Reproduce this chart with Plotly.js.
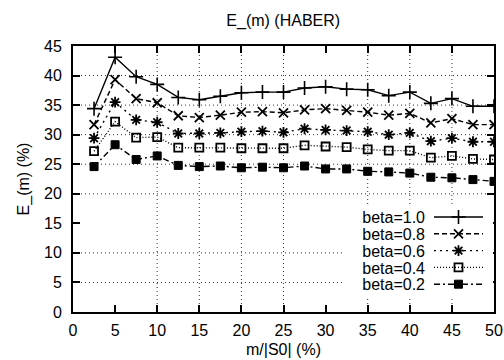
<!DOCTYPE html>
<html>
<head>
<meta charset="utf-8">
<script src="https://cdn.plot.ly/plotly-3.0.1.min.js"></script>
<style>
  html, body { margin: 0; padding: 0; background: #fff; }
  #chart { width: 504px; height: 360px; }
</style>
</head>
<body>
<div id="chart"></div>
<script>
// ---- data ----
const mOverS0 = [2.5, 5, 7.5, 10, 12.5, 15, 17.5, 20, 22.5, 25, 27.5, 30, 32.5, 35, 37.5, 40, 42.5, 45, 47.5, 50];
const beta10 = [34.4, 43.1, 39.8, 38.5, 36.3, 35.9, 36.5, 37.1, 37.2, 37.2, 37.9, 38.1, 37.7, 37.6, 36.6, 37.2, 35.3, 36.1, 34.8, 34.8];
const beta08 = [31.7, 39.3, 36.1, 35.4, 33.2, 32.9, 33.3, 33.8, 33.9, 33.7, 34.2, 34.4, 34.1, 33.8, 33.3, 33.6, 32.0, 32.7, 31.7, 31.7];
const beta06 = [29.4, 35.5, 32.5, 32.1, 30.2, 30.2, 30.3, 30.5, 30.6, 30.4, 31.0, 30.8, 30.7, 30.5, 30.0, 30.3, 28.9, 29.4, 28.8, 28.8];
const beta04 = [27.2, 32.2, 29.5, 29.6, 27.8, 27.8, 27.8, 27.7, 27.7, 27.7, 28.2, 28.0, 27.9, 27.5, 27.3, 27.3, 26.1, 26.4, 25.9, 25.8];
const beta02 = [24.6, 28.3, 25.8, 26.4, 24.8, 24.6, 24.7, 24.4, 24.5, 24.4, 24.7, 24.2, 24.2, 23.8, 23.7, 23.5, 22.8, 22.7, 22.4, 22.1];
const seriesNames = ["beta=1.0", "beta=0.8", "beta=0.6", "beta=0.4", "beta=0.2"];
const xTicks = [0, 5, 10, 15, 20, 25, 30, 35, 40, 45, 50];
const yTicks = [0, 5, 10, 15, 20, 25, 30, 35, 40, 45];
// grid lines visible in the reference
const xGrid = [10, 15, 20, 25, 35, 40, 45];
const yGrid = [5, 10, 20, 25, 30, 35, 40];

const seriesValues = [beta10, beta08, beta06, beta04, beta02];
const styles = [
  { dash: "solid", symbol: "cross-thin-open", size: 10, mlw: 1.6 },
  { dash: "5px,3px", symbol: "x-thin-open", size: 9, mlw: 1.8 },
  { dash: "2px,4px", symbol: "asterisk-open", size: 9, mlw: 1.8 },
  { dash: "1px,2px", symbol: "square-open", size: 8, mlw: 1.8 },
  { dash: "6px,3px,2px,3px", symbol: "square", size: 8, mlw: 1 }
];

const traces = seriesValues.map((vals, i) => ({
  x: mOverS0,
  y: vals,
  name: seriesNames[i],
  type: "scatter",
  mode: "lines+markers",
  line: { color: "#000", width: 1.4, dash: styles[i].dash },
  marker: {
    symbol: styles[i].symbol,
    size: styles[i].size,
    color: "#000",
    line: { color: "#000", width: styles[i].mlw }
  }
}));

const gridShapes = [];
xGrid.forEach(v => gridShapes.push({
  type: "line", xref: "x", yref: "paper", x0: v, x1: v, y0: 0, y1: 1,
  layer: "below", line: { color: "#333", width: 1, dash: "1px,3px" }
}));
yGrid.forEach(v => gridShapes.push({
  type: "line", xref: "paper", yref: "y", x0: 0, x1: 1, y0: v, y1: v,
  layer: "below", line: { color: "#333", width: 1, dash: "1px,3px" }
}));

const font = { family: "Liberation Sans, Arial, Helvetica, sans-serif", color: "#000", size: 16 };

const axisCommon = {
  showgrid: false,
  zeroline: false,
  showline: true,
  linecolor: "#000",
  linewidth: 2,
  mirror: "allticks",
  ticks: "inside",
  ticklen: 7,
  tickwidth: 2,
  tickcolor: "#000",
  tickfont: font
};

const layout = {
  width: 504,
  height: 360,
  margin: { l: 73, r: 10, t: 46, b: 48 },
  paper_bgcolor: "#fff",
  plot_bgcolor: "#fff",
  font: font,
  showlegend: true,
  title: { text: "E_(m) (HABER)", font: { ...font, size: 16 }, x: 0.562, xanchor: "center", y: 0.942, yanchor: "middle" },
  xaxis: Object.assign({}, axisCommon, {
    range: [0, 50],
    tickvals: xTicks,
    ticktext: xTicks.map(String),
    ticklabelstandoff: 3,
    title: { text: "m/|S0| (%)", font: font, standoff: 6 }
  }),
  yaxis: Object.assign({}, axisCommon, {
    range: [0, 45],
    tickvals: yTicks,
    ticktext: yTicks.map(String),
    ticklabelstandoff: 6,
    title: { text: "E_(m) (%)", font: font, standoff: 10 }
  }),
  legend: {
    x: 0.995, xanchor: "right",
    y: 0.43, yanchor: "top",
    bgcolor: "#fff",
    borderwidth: 0,
    font: font,
    tracegroupgap: 0
  },
  shapes: gridShapes
};

// gnuplot-style key: label first (right aligned), line sample after it, tight rows
function restyleKey(gd) {
  const leg = gd.querySelector("g.legend");
  if (!leg) return;
  const m = /translate\(\s*([-\d.]+)[ ,]+([-\d.]+)\s*\)/.exec(leg.getAttribute("transform") || "");
  const lx = m ? parseFloat(m[1]) : 0, ly = m ? parseFloat(m[2]) : 0;
  const keyLeft = 343, keyRight = 493, keyTop = 204, keyBottom = 296;
  const textRight = 425, sampleLeft = 434, sampleLen = 49, firstRow = 217, rowStep = 16.8;
  const bg = leg.querySelector("rect.bg");
  if (bg) {
    bg.setAttribute("x", keyLeft - lx); bg.setAttribute("y", keyTop - ly);
    bg.setAttribute("width", keyRight - keyLeft); bg.setAttribute("height", keyBottom - keyTop);
  }
  leg.querySelectorAll("[clip-path]").forEach(el => el.removeAttribute("clip-path"));
  const sb = leg.querySelector("g.scrollbox");
  if (sb) sb.setAttribute("transform", "translate(0,0)");
  leg.querySelectorAll("g.groups").forEach(g => g.setAttribute("transform", "translate(0,0)"));
  const items = leg.querySelectorAll("g.traces");
  items.forEach((it, i) => {
    it.setAttribute("transform", `translate(0,${(firstRow + i * rowStep - ly).toFixed(2)})`);
    const t = it.querySelector("text.legendtext");
    if (t) {
      t.setAttribute("x", textRight - lx);
      t.setAttribute("text-anchor", "end");
      t.style.textAnchor = "end";
      t.querySelectorAll("tspan[x]").forEach(s => s.setAttribute("x", textRight - lx));
    }
    it.querySelectorAll("path.js-line").forEach(p => p.setAttribute("d", `M${sampleLeft - lx},0h${sampleLen}`));
    it.querySelectorAll("path.scatterpts").forEach(p => p.setAttribute("transform", `translate(${sampleLeft - lx + sampleLen / 2},0)`));
  });
}

Plotly.newPlot("chart", traces, layout, { displayModeBar: false, staticPlot: true }).then(restyleKey);
</script>
</body>
</html>
